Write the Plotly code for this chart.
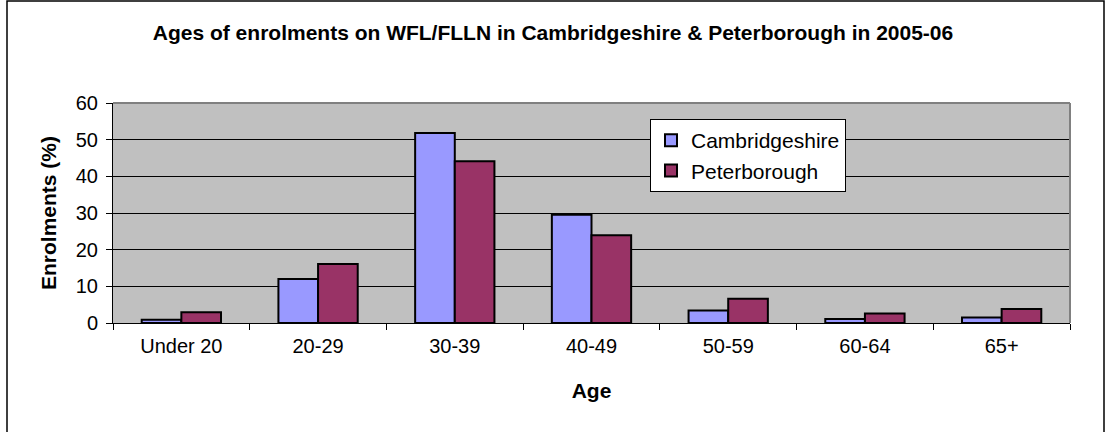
import plotly.graph_objects as go

categories = ["Under 20", "20-29", "30-39", "40-49", "50-59", "60-64", "65+"]
cambridgeshire = [0.9, 12.0, 51.8, 29.5, 3.4, 1.1, 1.5]
peterborough = [2.9, 16.1, 44.1, 23.9, 6.6, 2.6, 3.8]

FONT = "Liberation Sans, Arial, sans-serif"

fig = go.Figure()
fig.add_trace(go.Bar(x=categories, y=cambridgeshire, name="Cambridgeshire",
                     marker=dict(color="#9999FF", line=dict(color="black", width=2))))
fig.add_trace(go.Bar(x=categories, y=peterborough, name="Peterborough",
                     marker=dict(color="#993366", line=dict(color="black", width=2))))

W, H = 1106, 432
L, R, T, B = 113, 36, 103, 109
pw, ph = W - L - R, H - T - B

def px(x):
    return (x - L) / pw

def py(y):
    return (H - B - y) / ph

fig.update_layout(
    width=W, height=H,
    margin=dict(l=L, r=R, t=T, b=B, autoexpand=False),
    paper_bgcolor="white",
    plot_bgcolor="#C0C0C0",
    font=dict(family=FONT, size=20, color="black"),
    barmode="group", bargap=0.42, bargroupgap=0,
    title=dict(text="<b>Ages of enrolments on WFL/FLLN in Cambridgeshire &amp; Peterborough in 2005-06</b>",
               x=0.5, xref="container", xanchor="center", y=1 - 33 / H, yanchor="middle",
               font=dict(size=21, family=FONT)),
    legend=dict(x=px(650), y=py(119), xanchor="left", yanchor="top",
                bgcolor="white", bordercolor="black", borderwidth=1,
                font=dict(size=21, family=FONT), tracegroupgap=0),
    showlegend=True,
)
fig.update_xaxes(
    type="category", showgrid=False, showline=True, linecolor="black", linewidth=1,
    ticks="outside", tickson="boundaries", ticklen=6, tickcolor="black",
    tickfont=dict(size=20), ticklabelstandoff=5,
    title=dict(text="<b>Age</b>", font=dict(size=21), standoff=27),
    mirror=False,
)
fig.update_yaxes(
    range=[0, 60], dtick=10, showgrid=True, gridcolor="black", gridwidth=1,
    showline=True, linecolor="black", linewidth=1,
    ticks="outside", ticklen=6, tickcolor="black", tickfont=dict(size=20),
    ticklabelstandoff=4,
    zeroline=False,
    title=dict(text="<b>Enrolments (%)</b>", font=dict(size=21), standoff=13),
)
# grey border on top and right of the plot area
fig.add_shape(type="line", xref="paper", yref="paper", x0=0, x1=1, y0=1, y1=1,
              line=dict(color="#808080", width=2))
fig.add_shape(type="line", xref="paper", yref="paper", x0=1, x1=1, y0=0, y1=1,
              line=dict(color="#808080", width=2))
# outer chart frame
fig.add_shape(type="rect", xref="paper", yref="paper",
              x0=px(7), x1=px(1104), y0=py(H + 5), y1=py(1),
              line=dict(color="black", width=1.5), fillcolor="rgba(0,0,0,0)", layer="below")

fig.write_html("out.html", config={"displayModeBar": False},
               post_script="document.body.style.margin='0';document.body.style.overflow='hidden';")
